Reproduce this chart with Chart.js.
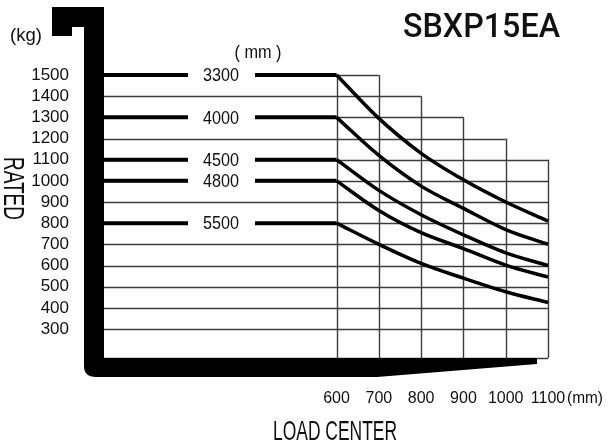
<!DOCTYPE html>
<html>
<head>
<meta charset="utf-8">
<script src="https://cdn.jsdelivr.net/npm/chart.js@4.4.1/dist/chart.umd.min.js"></script>
<style>
html,body{margin:0;padding:0;background:#fff}
#caixa{width:608px;height:446px;position:relative}
</style>
</head>
<body>
<div id="caixa"><canvas id="graficoCarga"></canvas></div>
<script>

let modelo='SBXP15EA'
let centrosCarga=[600,700,800,900,1000,1100]
let rotulosCarga=[300,400,500,600,700,800,900,1000,1100,1200,1300,1400,1500]
let topoColunas=[1500,1500,1400,1300,1200,1100]
let alturasMastro=['3300','4000','4500','4800','5500']

let carga3300=[1500,1295,1130,1005,900,810]
let carga4000=[1300,1120,975,870,770,700]
let carga4500=[1100,955,840,745,660,600]
let carga4800=[1000,860,755,680,602,545]
let carga5500=[800,700,610,540,476,425]

let cargas=[carga3300,carga4000,carga4500,carga4800,carga5500]

let X_MIN=50
let X_MAX=1100
let Y_MIN=163
let Y_MAX=1500

let FONTE="'Liberation Sans',Arial,sans-serif"

function textoAjustado(ctx,txt,x,y,largura,fonte,alinhar){
ctx.save()
ctx.font=fonte
let w=ctx.measureText(txt).width
ctx.translate(x,y)
ctx.scale(largura/w,1)
ctx.textAlign=alinhar||'left'
ctx.fillText(txt,0,0)
ctx.restore()
}

let pluginGrade={
id:'grade',
beforeDatasetsDraw(chart){
let ctx=chart.ctx
let sx=chart.scales.x
let sy=chart.scales.y
ctx.save()
ctx.strokeStyle='#3c3c3c'
ctx.lineWidth=1.4
// linhas horizontais em degrau
let linhas=[Y_MIN].concat(rotulosCarga)
linhas.forEach(v=>{
let k=0
for(let i=0;i<centrosCarga.length-1;i++){
if(topoColunas[i+1]>=v||(i===0&&topoColunas[0]>=v))k=i+1
}
let y=Math.round(sy.getPixelForValue(v))+0.5
ctx.beginPath()
ctx.moveTo(sx.getPixelForValue(X_MIN),y)
ctx.lineTo(sx.getPixelForValue(centrosCarga[k]),y)
ctx.stroke()
})
// linhas verticais
centrosCarga.forEach((c,i)=>{
let x=Math.round(sx.getPixelForValue(c))+0.5
ctx.beginPath()
ctx.moveTo(x,sy.getPixelForValue(Y_MIN))
ctx.lineTo(x,sy.getPixelForValue(topoColunas[i]))
ctx.stroke()
})
ctx.restore()
},
afterDatasetsDraw(chart){
let ctx=chart.ctx
let a=chart.chartArea
let sy=chart.scales.y
ctx.save()
ctx.textBaseline='middle'

// rotulos dos mastros sobre as linhas
cargas.forEach((c,i)=>{
let y=sy.getPixelForValue(c[0])
ctx.fillStyle='#fff'
ctx.fillRect(a.left+84,y-4,67,8)
ctx.fillStyle='#111'
textoAjustado(ctx,alturasMastro[i],a.left+117,y+1,36,'19px '+FONTE,'center')
})
textoAjustado(ctx,'( mm )',a.left+154,53,47,'19px '+FONTE,'center')

// moldura preta
let L=a.left
let B=a.bottom
ctx.fillStyle='#000'
ctx.beginPath()
ctx.moveTo(52,7)
ctx.lineTo(L,7)
ctx.lineTo(L,B)
ctx.lineTo(537,B)
ctx.lineTo(537,364)
ctx.lineTo(377,B+19)
ctx.lineTo(96,B+19)
ctx.quadraticCurveTo(L-20,B+19,L-20,B+8)
ctx.lineTo(L-20,27)
ctx.lineTo(72,27)
ctx.lineTo(72,36)
ctx.lineTo(52,36)
ctx.closePath()
ctx.fill()

// textos
ctx.fillStyle='#111'
ctx.textBaseline='alphabetic'
textoAjustado(ctx,modelo,403,37,157,'500 33px Roboto,'+FONTE,'left')
textoAjustado(ctx,'(kg)',10,41,32,'19px '+FONTE,'left')
textoAjustado(ctx,'LOAD CENTER',273,440,124,'28px '+FONTE,'left')
textoAjustado(ctx,'(mm)',567,403,36,'16px '+FONTE,'left')
ctx.save()
ctx.translate(4,157)
ctx.rotate(Math.PI/2)
textoAjustado(ctx,'RATED',0,0,63,'29px '+FONTE,'left')
ctx.restore()

ctx.restore()
}
}

let datasets=[]
cargas.forEach((c,i)=>{
datasets.push({
label:alturasMastro[i]+' reta',
data:[{x:X_MIN,y:c[0]},{x:centrosCarga[0],y:c[0]}],
borderColor:'#000',
borderWidth:4,
pointRadius:0,
tension:0,
clip:false
})
datasets.push({
label:alturasMastro[i],
data:centrosCarga.map((x,j)=>({x:x,y:c[j]})),
borderColor:'#000',
borderWidth:3.5,
pointRadius:0,
cubicInterpolationMode:'monotone',
clip:false
})
})

new Chart(document.getElementById('graficoCarga'),{
type:'line',
data:{datasets:datasets},
options:{
responsive:true,
maintainAspectRatio:false,
animation:false,
layout:{padding:{top:75,right:60,left:0,bottom:0}},
plugins:{
legend:{display:false},
tooltip:{enabled:false}
},
scales:{
x:{
type:'linear',
min:X_MIN,
max:X_MAX,
afterBuildTicks:s=>{s.ticks=centrosCarga.map(v=>({value:v}))},
afterFit:s=>{s.height=88},
grid:{display:false},
border:{display:false},
ticks:{
color:'#111',
padding:23,
maxRotation:0,
autoSkip:false,
callback:v=>String(v),
font:{family:FONTE,size:16}
}
},
y:{
type:'linear',
min:Y_MIN,
max:Y_MAX,
afterBuildTicks:s=>{s.ticks=rotulosCarga.map(v=>({value:v}))},
afterFit:s=>{s.width=104},
grid:{display:false},
border:{display:false},
ticks:{
color:'#111',
padding:27,
autoSkip:false,
callback:v=>String(v),
font:{family:FONTE,size:17}
}
}
}
},
plugins:[pluginGrade]
})

</script>
</body>
</html>
